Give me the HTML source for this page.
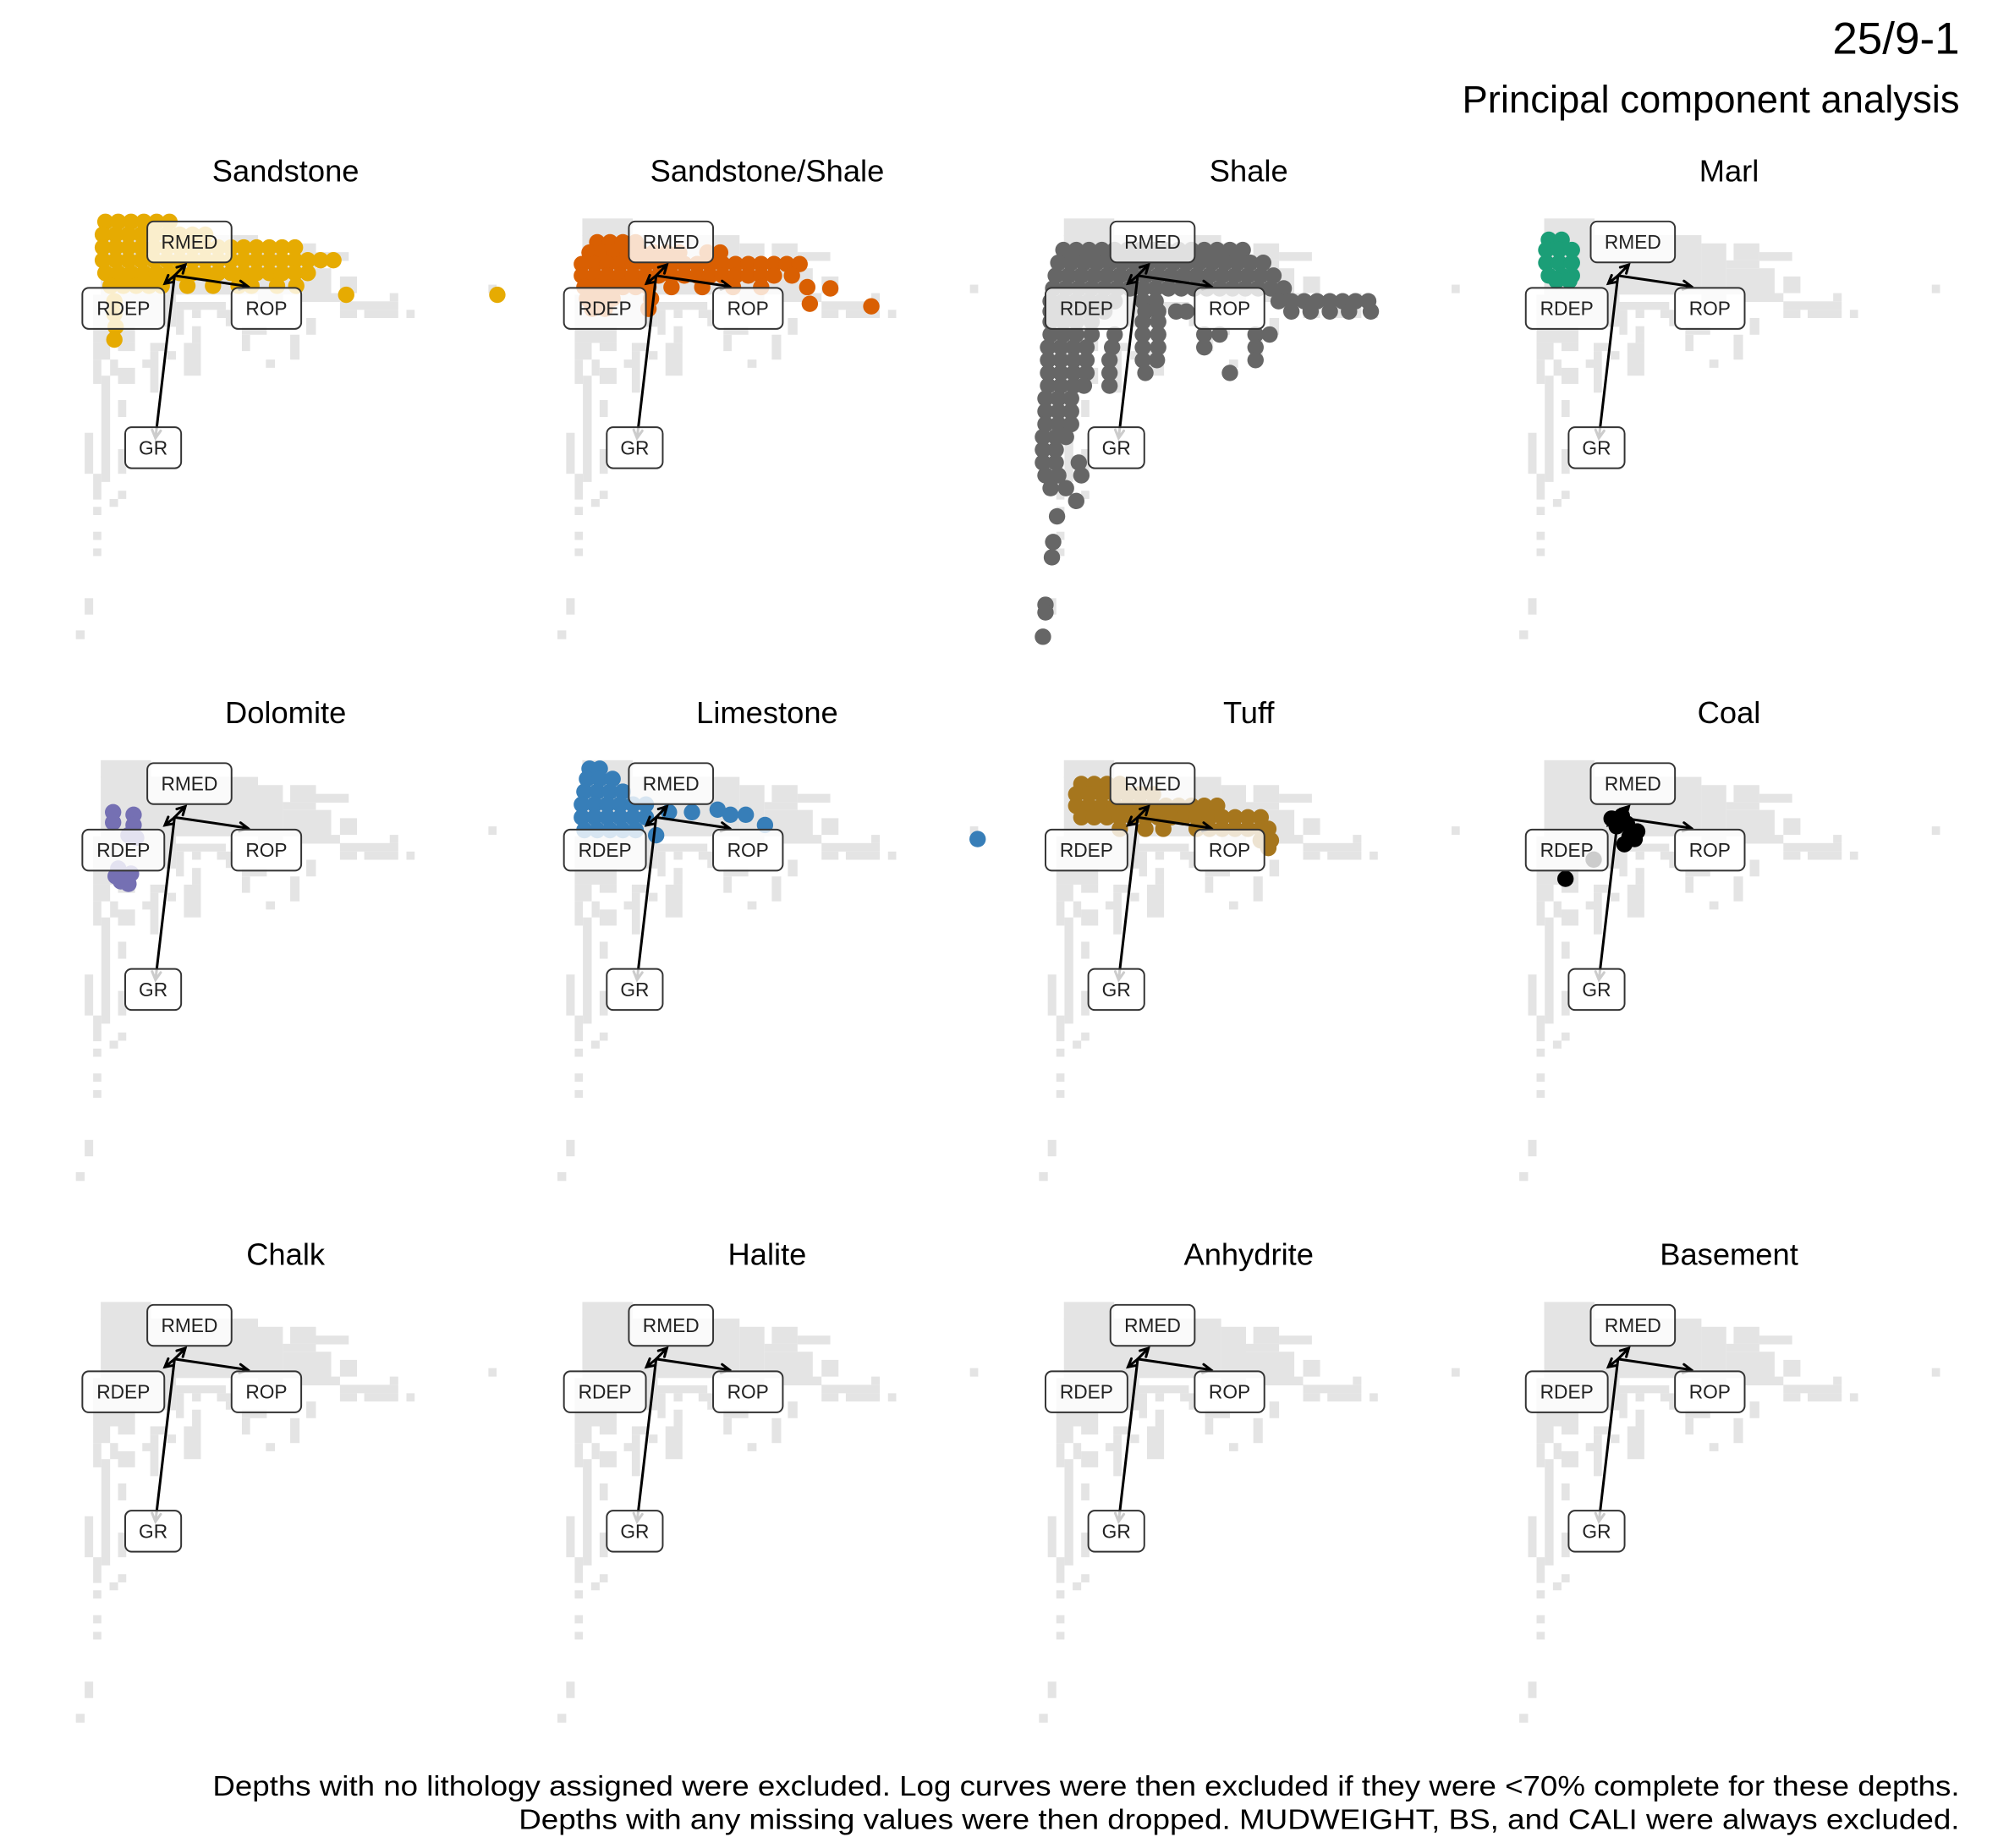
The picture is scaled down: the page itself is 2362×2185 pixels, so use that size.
<!DOCTYPE html>
<html><head><meta charset="utf-8"><title>25/9-1 PCA</title>
<style>html,body{margin:0;padding:0;background:#fff}svg{display:block}</style></head>
<body>
<svg id="chart" xmlns="http://www.w3.org/2000/svg" width="2362" height="2185" viewBox="0 0 1560 1443" preserveAspectRatio="none" font-family="Liberation Sans, sans-serif">
<rect x="0" y="0" width="1560" height="1443" fill="#fff"/>
<text x="1530" y="42" text-anchor="end" font-size="35" fill="#000">25/9-1</text>
<text x="1530" y="88" text-anchor="end" font-size="30" fill="#000">Principal component analysis</text>
<text x="1530" y="1402" text-anchor="end" font-size="22" textLength="1364" lengthAdjust="spacingAndGlyphs" fill="#000">Depths with no lithology assigned were excluded. Log curves were then excluded if they were &lt;70% complete for these depths.</text>
<text x="1530" y="1428" text-anchor="end" font-size="22" textLength="1125" lengthAdjust="spacingAndGlyphs" fill="#000">Depths with any missing values were then dropped. MUDWEIGHT, BS, and CALI were always excluded.</text>
<g id="panels"></g>
</svg>
<script>
// ---- data ----
const lithologies = ['Sandstone','Sandstone/Shale','Shale','Marl','Dolomite','Limestone','Tuff','Coal','Chalk','Halite','Anhydrite','Basement'];
const lithColors = ['#E6AB02','#D95F02','#666666','#1B9E77','#7570B3','#377EB8','#A6761D','#000000','#000','#000','#000','#000'];
// loadings (PC1, PC2) for each variable
const loadingNames = ['RMED','RDEP','ROP','GR'];
const loadingPC1 = [0.84,-0.76,5.71,-1.49];
const loadingPC2 = [0.85,-0.62,-0.84,-12.69];
// scores by lithology, as rows: [PC2, [PC1...]]
const sandstoneRows = [
 [4.2,[-5.4,-4.4,-3.4,-2.4,-1.4,-0.4]],
 [3.2,[-5.6,-4.6,-3.6,-2.6,-1.6,-0.6,0.4,1.4,2.4]],
 [2.2,[-5.6,-4.6,-3.6,-2.6,-1.6,-0.6,0.4,1.4,2.4,3.4,4.4,5.4,6.4,7.4,8.4,9.4]],
 [1.2,[-5.6,-4.6,-3.6,-2.6,-1.6,-0.6,0.4,1.4,2.4,3.4,4.4,5.4,6.4,7.4,8.4,9.4,10.4,11.4,12.4]],
 [0.2,[-5.4,-4.4,-3.4,-2.4,-1.4,-0.4,0.4,1.4,2.4,3.4,4.4,5.4,6.4,7.4,8.4,9.4,10.4]],
 [-0.8,[-5,-4,-3,-2,-1,1,3,5,6,8,9.5]],
 [-1.5,[13.4,25.2]],
 [-2,[-4.7]],[-3,[-4.7]],[-4,[-4.6]],[-5,[-4.7]]
];
const sandShaleRows = [
 [2.6,[-4.6,-3.6,-2.6,-1.6]],
 [1.8,[-5.2,-4.2,-3.2,-2.2,-1.2,-0.2,0.8,1.8,4,5]],
 [0.9,[-5.8,-4.8,-3.8,-2.8,-1.8,-0.8,0.2,1.2,2.2,3.2,4.2,5.2,6.2,7.2,8.2,9.2,10.2,11.2]],
 [0,[-5.8,-4.8,-3.8,-2.8,-1.8,-0.8,0.2,1.2,2.2,3.2,4.2,5.2,6.2,7.2,8.2,9.2,10.6]],
 [-0.9,[-5.6,-4.6,-3.6,-2.6,-1.6,-0.6,1.2,3.6,6,8.2,11.8]],
 [-1.0,[13.6]],
 [-1.8,[-5.4,-4.4,-3.4,-0.4]],
 [-2.2,[12.0]],[-2.4,[16.8]],
 [-2.6,[-5,-4,-0.6]]
];
const shaleRows = [
 [2.0,[-5.8,-4.8,-3.8,-2.8,-1.8,-0.8,0.2,1.2,2.2,3.2,4.2,5.2,6.2,7.2,8.2]],
 [1.0,[-6.2,-5.2,-4.2,-3.2,-2.2,-1.2,-0.2,0.8,1.8,2.8,3.8,4.8,5.8,6.8,7.8,8.8,9.8]],
 [0.0,[-6.4,-5.4,-4.4,-3.4,-2.4,-1.4,-0.4,0.6,1.6,2.6,3.6,4.6,5.6,6.6,7.6,8.6,9.6,10.6]],
 [-1.0,[-6.6,-5.6,-4.6,-3.6,-2.6,-1.6,-0.6,0.4,1.4,2.4,3.4,4.4,5.4,6.4,7.4,8.4,9.4,10.4,11.4]],
 [-2.0,[-6.8,-5.8,-4.8,-3.8,-2.8,-1.8,0.4,1.4,11,12,13,14,15,16,17,18]],
 [-2.8,[-6.8,-5.8,-4.8,-3.8,-2.6,0.6,1.6,3,3.8,12,13.5,15,16.5,18.2]],
 [-3.6,[-6.8,-5.8,-4.8,-3.6,0.4,1.6]],
 [-4.6,[-6.8,-5.8,-4.8,-3.6,-1.8,0.4,1.6,5.2,6.4,9.2,10.3]],
 [-5.6,[-7,-6,-5,-4,-2,0.4,1.6,5.2,9.2]],
 [-6.6,[-7,-6,-5,-4,-2.2,0.4,1.5,9.2]],
 [-7.6,[-7,-6,-5,-4,-2.2,0.6,7.2]],
 [-8.6,[-7,-6,-5,-4.2,-2.2]],
 [-9.6,[-7.2,-6.2,-5.2]],
 [-10.6,[-7.2,-6.2,-5.2]],
 [-11.6,[-7.2,-6.2,-5.2]],
 [-12.6,[-7.4,-6.4,-5.6]],
 [-13.6,[-7.4,-6.4]],
 [-14.6,[-7.4,-6.4,-4.6]],
 [-15.6,[-7.2,-6.2,-4.4]],
 [-16.6,[-6.8,-5.6]],
 [-17.6,[-4.8]],[-18.8,[-6.3]],[-20.8,[-6.6]],[-22.0,[-6.7]],
 [-25.7,[-7.2]],[-26.3,[-7.2]],[-28.2,[-7.4]]
];
const marlRows = [
 [2.8,[-5.4,-4.4]],[2.0,[-5.6,-4.6,-3.6]],[1.0,[-5.6,-4.6,-3.6]],[0.0,[-5.4,-4.4,-3.6]],[-0.4,[-4.8,-3.8]]
];
const dolomiteRows = [
 [0.4,[-4.8]],[0.2,[-3.2]],[-0.4,[-4.8]],[-0.6,[-3.2]],[-1.4,[-3.6]],[-1.6,[-3.0]],
 [-4.0,[-4.4]],[-4.4,[-3.4]],[-4.6,[-4.6]],[-5.0,[-4.2]],[-5.2,[-3.6]]
];
const limestoneRows = [
 [3.8,[-5.2,-4.4]],[3.0,[-5.4,-4.4,-3.4]],[2.0,[-5.6,-4.6,-3.6,-2.6]],
 [1.0,[-5.8,-4.8,-3.8,-2.8,-1.8,-0.8]],[0.0,[-5.8,-4.8,-3.8,-2.8,-1.8,-0.8]],
 [-1.0,[-5.6,-4.6,-3.6,-2.6,-1.6]],
 [0.4,[1.0,2.8]],[0.6,[4.8]],[0.2,[5.8,7.0]],[-0.6,[8.5]],[-1.4,[0]],[-1.7,[25.1]]
];
const tuffRows = [
 [2.6,[-4.4,-3.4,-2.4,-1.4]],
 [1.8,[-4.8,-3.8,-2.8,-1.8,-0.8,0.2,1.2]],
 [0.9,[-4.8,-3.8,-2.8,-1.8,-0.8,0.2,1.2,2.2,3.2,4.2,5.2,6.2]],
 [0.0,[-4.4,-3.4,-2.4,-1.4,-0.4,0.6,1.6,2.6,3.6,4.6,5.6,6.6,7.6,8.6,9.6]],
 [-0.9,[-1.4,0.6,2,4.6,5.6,6.6,7.6,8.6,9.6,10.2]],
 [-1.8,[9.6,10.4]],[-2.4,[10.2]]
];
const coalRows = [
 [0.1,[0.3]],[-0.1,[-0.5]],[-0.5,[0.7]],[-0.7,[-0.1]],[-1.1,[1.5]],[-1.5,[0.9]],[-1.7,[1.3]],[-2.1,[0.5]],
 [-3.3,[-1.9]],[-4.8,[-4.1]]
];
const emptyRows = [];
const scoreRows = [sandstoneRows,sandShaleRows,shaleRows,marlRows,dolomiteRows,limestoneRows,tuffRows,coalRows,emptyRows,emptyRows,emptyRows,emptyRows];

// background density bins (all depths), in bin-grid units of the reference raster
const bgBins = [[113,40,285,100],[113,97,650,300],[650,125,735,330],[760,125,848,183],[848,155,960,185],[735,183,848,210],[735,210,900,300],[930,238,988,295],[800,295,930,325],[930,323,1129,352],[930,352,988,380],[1013,352,1129,380],[1100,295,1129,323],[1157,352,1185,380],[1437,266,1465,295],[87,300,370,410],[370,325,540,352],[370,352,397,437],[425,352,455,380],[510,352,560,380],[540,380,560,408],[815,380,848,437],[595,408,680,437],[595,437,623,493],[760,437,792,522],[677,522,708,550],[87,408,230,465],[87,465,145,522],[172,465,230,493],[282,465,340,493],[255,522,285,550],[282,493,310,635],[340,493,370,522],[397,465,455,577],[425,408,455,465],[87,522,115,605],[115,577,145,940],[145,522,172,577],[172,550,230,605],[172,660,200,718],[58,772,87,912],[87,912,115,1000],[172,828,200,912],[143,998,172,1025],[172,970,200,998],[87,1025,115,1053],[87,1110,115,1138],[87,1167,115,1193],[58,1337,87,1393],[28,1447,58,1477]];

// ---- layout ----
const NS='http://www.w3.org/2000/svg';
const colX=[223,599,975,1350], rowY=[133,556,979];
const unit=10, dyShift=3.5;
const labelW={RMED:65.8,RDEP:64,ROP:54.4,GR:43.7};
const labelOff={RMED:[11.6,-26.3],RDEP:[-40,25.6],ROP:[71.7,25.6],GR:[-16.7,134.4]};
function mk(tag,attrs){const e=document.createElementNS(NS,tag);for(const k in attrs)e.setAttribute(k,attrs[k]);return e;}
const root=document.getElementById('panels');

lithologies.forEach((name,i)=>{
  const cx=colX[i%4], ty=rowY[Math.floor(i/4)];
  const ox=cx-86.7, oy=ty+78.7+dyShift;
  const xs=v=>ox+v*unit, ys=v=>oy-v*unit;
  const binX=z=>cx+z*0.2286-170.16, binY=z=>ty+dyShift+z*0.2286+24.96;
  const slug=name.toLowerCase().replace(/[^a-z]+/g,'-');
  const g=mk('g',{});
  
  
  root.appendChild(g);
  const t=mk('text',{x:cx,y:ty+8.5,'text-anchor':'middle','font-size':'24',fill:'#000'});
  
  
  t.textContent=name; g.appendChild(t);
  const bg=mk('g',{fill:'#E4E4E4'});
  
  
  g.appendChild(bg);
  bgBins.forEach(b=>{
    const r=mk('rect',{x:binX(b[0]).toFixed(2),y:binY(b[1]).toFixed(2),width:(binX(b[2])-binX(b[0])).toFixed(2),height:(binY(b[3])-binY(b[1])).toFixed(2)});
    
    
    bg.appendChild(r);
  });
  const pg=mk('g',{fill:lithColors[i]});
  
  
  g.appendChild(pg);
  scoreRows[i].forEach(row=>{
    row[1].forEach(p1=>{
      const c=mk('circle',{cx:xs(p1).toFixed(2),cy:ys(row[0]).toFixed(2),r:6.4});
      
      
      pg.appendChild(c);
    });
  });
  const ag=mk('g',{stroke:'#000','stroke-width':'2',fill:'none','stroke-linecap':'round'});
  
  
  g.appendChild(ag);
  loadingNames.forEach((ln,k)=>{
    const x1=xs(0),y1=ys(0),x2=xs(loadingPC1[k]),y2=ys(loadingPC2[k]);
    const a=Math.atan2(y2-y1,x2-x1),h=7,s=0.5;
    const p=mk('path',{d:`M${x1},${y1}L${x2},${y2}M${x2-h*Math.cos(a-s)},${y2-h*Math.sin(a-s)}L${x2},${y2}L${x2-h*Math.cos(a+s)},${y2-h*Math.sin(a+s)}`});
    
    
    ag.appendChild(p);
  });
  loadingNames.forEach(ln=>{
    const lx=ox+labelOff[ln][0], ly=oy+labelOff[ln][1], w=labelW[ln];
    const lg=mk('g',{});
    
    
    g.appendChild(lg);
    lg.appendChild(mk('rect',{x:lx-w/2,y:ly-16,width:w,height:32,rx:5,fill:'#fff','fill-opacity':'0.8',stroke:'#333','stroke-width':'1.3'}));
    const tx=mk('text',{x:lx,y:ly+5.3,'text-anchor':'middle','font-size':'15',fill:'#222'});
    tx.textContent=ln; lg.appendChild(tx);
  });
});
</script>
</body></html>
